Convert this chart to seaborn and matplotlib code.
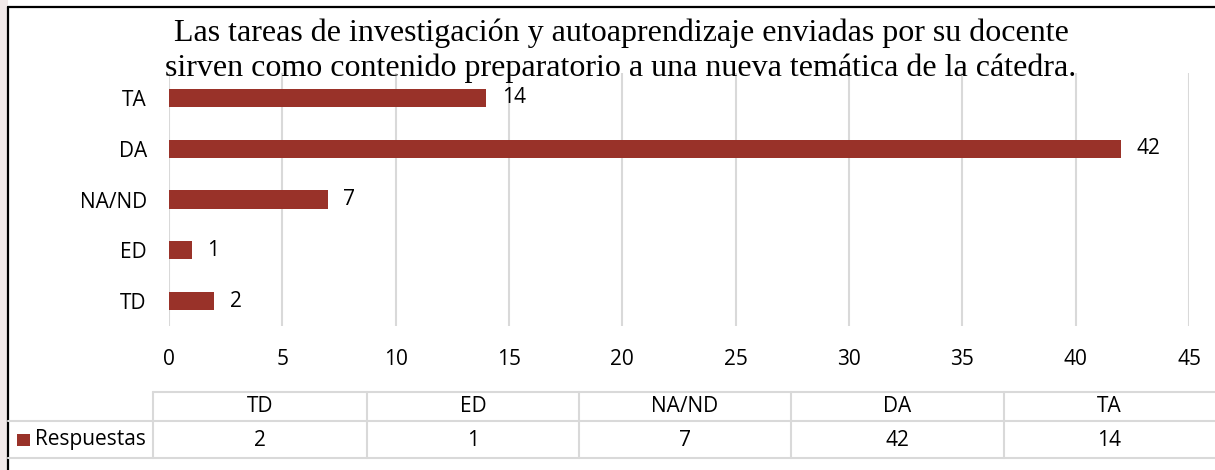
import matplotlib
matplotlib.use("Agg")
import matplotlib.pyplot as plt
import seaborn as sns
import pandas as pd
from matplotlib.patches import Rectangle

# ---- data ----
categories = ["TD", "ED", "NA/ND", "DA", "TA"]
values = [2, 1, 7, 42, 14]
series_name = "Respuestas"
x_ticks = [0, 5, 10, 15, 20, 25, 30, 35, 40, 45]
title_lines = ["Las tareas de investigación y autoaprendizaje enviadas por su docente",
               "sirven como contenido preparatorio a una nueva temática de la cátedra."]

bar_color = "#993229"
grid_color = "#d9d9d9"

sns.set_theme(style="white")
plt.rcParams["font.family"] = ["Open Sans", "DejaVu Sans"]

W, H = 1215, 470
fig = plt.figure(figsize=(W / 100, H / 100), dpi=100)
fig.patch.set_facecolor("white")

FS = 15

# overlay for frame / table (pixel coordinates)
ov = fig.add_axes([0, 0, 1, 1], zorder=0)
ov.set_xlim(0, W)
ov.set_ylim(H, 0)
ov.axis("off")
ov.add_patch(Rectangle((0, 0), 8, H, color="#f1e9e9", lw=0))
ov.plot([8, W], [7, 7], color="black", lw=1.6)
ov.plot([8, 8], [7, H], color="black", lw=1.6)

# chart axes
left, right = 169, 1189
top, bottom = 72.6, 326.4
ax = fig.add_axes([left / W, 1 - bottom / H, (right - left) / W, (bottom - top) / H], zorder=2)
ax.patch.set_alpha(0)

df = pd.DataFrame({"cat": categories, "val": values})
order = categories[::-1]
sns.barplot(data=df, x="val", y="cat", order=order, orient="h", color=bar_color,
            saturation=1, width=0.355, ax=ax, linewidth=0, zorder=3)
ax.set_xlim(0, 45)
ax.set_ylim(4.5, -0.5)
ax.set_xticks(x_ticks)
ax.set_xticklabels([str(t) for t in x_ticks])
ax.xaxis.grid(True, color=grid_color, lw=1.5, zorder=0)
ax.set_axisbelow(True)
for s in ax.spines.values():
    s.set_visible(False)
ax.tick_params(axis="x", length=0, pad=16, labelsize=FS, labelcolor="black")
ax.tick_params(axis="y", length=0, pad=16, labelsize=FS, labelcolor="black")
ax.set_xlabel("")
ax.set_ylabel("")
for c in ax.containers:
    ax.bar_label(c, padding=11, fontsize=FS, color="black")

# title
for i, line in enumerate(title_lines):
    fig.text(621 / W, 1 - (33 + 35 * i) / H, line, ha="center", va="center",
             fontsize=23, family="Liberation Serif", color="black")

# data table
col_edges = [153, 367, 579, 791, 1004, 1215]
y_top, y_mid, y_bot = 392, 420.7, 458
ov.plot([col_edges[0], W], [y_top, y_top], color=grid_color, lw=1.5)
ov.plot([8, W], [y_mid, y_mid], color=grid_color, lw=1.5)
ov.plot([8, W], [y_bot, y_bot], color=grid_color, lw=1.5)
for xe in col_edges[:-1]:
    ov.plot([xe, xe], [y_top, y_bot], color=grid_color, lw=1.5)
for i, (cat, v) in enumerate(zip(categories, values)):
    cx = (col_edges[i] + col_edges[i + 1]) / 2
    ov.text(cx, 407, cat, ha="center", va="center", fontsize=FS, color="black")
    ov.text(cx, 440, str(v), ha="center", va="center", fontsize=FS, color="black")
ov.add_patch(Rectangle((17, 434), 13, 12, color=bar_color, lw=0))
ov.text(35, 440, series_name, ha="left", va="center", fontsize=FS, color="black")

fig.savefig("out.png", dpi=100, facecolor="white")
